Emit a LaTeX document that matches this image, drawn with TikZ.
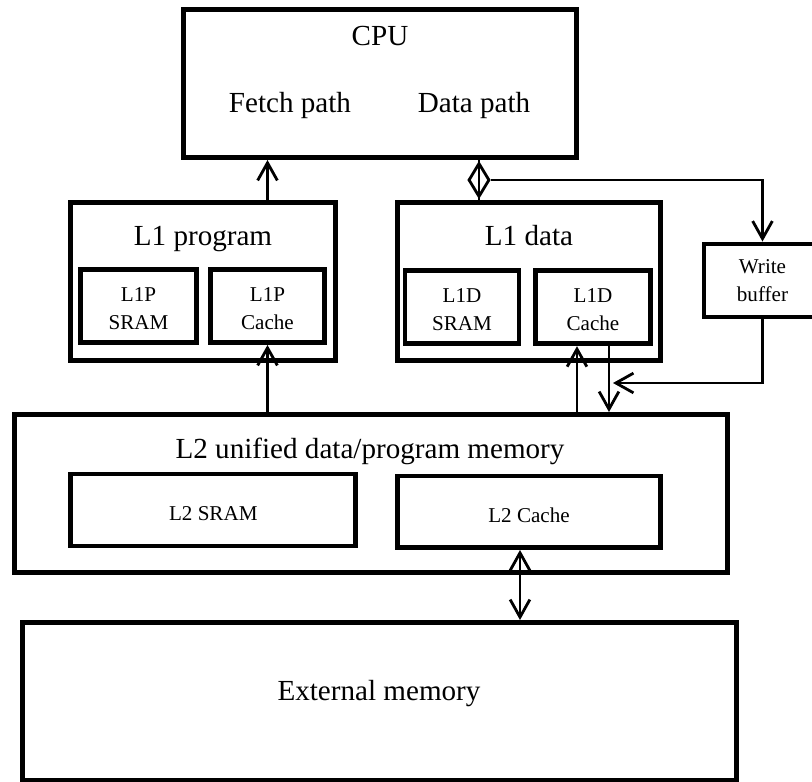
\documentclass[tikz,border=0pt]{standalone}
\usepackage{fontspec}
\setmainfont{Liberation Serif}
\usetikzlibrary{shapes,arrows.meta,positioning,calc}

\begin{document}
\begin{tikzpicture}[
				x=0.025cm, y=-0.025cm,
				>={Straight Barb[length=12.5pt,width=14pt]},
				every node/.style={inner sep=0pt},
				block/.style={draw, line width=3.5pt},
				title/.style={font=\fontsize{20.7}{24.8}\selectfont, anchor=base},
				small/.style={block, font=\fontsize{15}{20.2}\selectfont, align=center},
				cell/.style={small, text height=34pt},
				bank/.style={small, text height=15pt},
				wire/.style={line width=2pt},
				link/.style={wire, ->}
			]
			\path[use as bounding box] (0,0) rectangle (812,782);
			\clip (0,0) rectangle (812,782);

			% CPU
			\node[block, minimum width=9.8cm, minimum height=3.7cm] (cpu) at (380,83.5) {};
			\node[title] (cputxt) at (380,45.5) {CPU};
			\node[title] (fetch) at (290,112.5) {Fetch path};
			\node[title] (datap) at (474,112.5) {Data path};

			% L1
			\node[block, minimum width=6.625cm, minimum height=3.95cm] (l1p) at (203,281.5) {};
			\node[title] (l1ptxt) at (203,245) {L1 program};
			\node[cell, minimum width=2.9cm, minimum height=1.825cm] (l1ps) at (138.5,306) {L1P\\SRAM};
			\node[cell, minimum width=2.85cm, minimum height=1.825cm] (l1pc) at (267.5,306) {L1P\\Cache};

			\node[block, minimum width=6.5625cm, minimum height=3.95cm] (l1d) at (529,281.5) {};
			\node[title] (l1dtxt) at (529,245) {L1 data};
			\node[cell, minimum width=2.85cm, minimum height=1.8375cm] (l1ds) at (462,307) {L1D\\SRAM};
			\node[cell, minimum width=2.875cm, minimum height=1.8375cm] (l1dc) at (593,307) {L1D\\Cache};

			\node[small, minimum width=2.925cm, minimum height=1.825cm] (wbuf) at (762.5,280.5) {Write\\buffer};

			% L2
			\node[block, minimum width=17.825cm, minimum height=3.95cm] (l2) at (371,493.5) {};
			\node[title] (l2txt) at (370,458) {L2 unified data/program memory};
			\node[bank, minimum width=7.125cm, minimum height=1.8cm] (l2s) at (213.3,510) {L2 SRAM};
			\node[bank, minimum width=6.575cm, minimum height=1.7875cm] (l2c) at (529,511.75) {L2 Cache};

			% external
			\node[block, minimum width=17.8375cm, minimum height=3.9375cm] (ext) at (379.25,701.25) {};
			\node[title] (exttxt) at (379,700.5) {External memory};

			% data path junction
			\node[diamond, draw, line width=2pt, minimum width=0.525cm, minimum height=0.85cm] (dpj) at (479,180) {};
			\coordinate (merge) at (613,383);

			\draw[link] (l1pc.center |- l1p.north) -- (l1pc.center |- cpu.south);
			\draw[link] (l1pc.center |- l2.north) -- (l1pc.south);
			\draw[wire] (cpu.south -| dpj) -- (l1d.north -| dpj);
			\draw[link] (dpj.east) -| (wbuf.north);
			\draw[link] (wbuf.south) |- (merge);
			\draw[link] ($(l1dc.south |- l2.north)+(-16,0)$) -- ($(l1dc.south)+(-16,0)$);
			\draw[link] ($(l1dc.south)+(16,0)$) -- ($(l1dc.south |- l2.north)+(16,0)$);
			\draw[wire, <->] ($(l2c.south)+(-9,0)$) -- ($(l2c.south |- ext.north)+(-9,0)$);
		\end{tikzpicture}
\end{document}
